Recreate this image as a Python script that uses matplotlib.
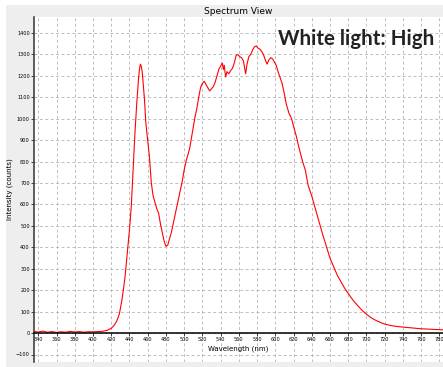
import numpy as np
import matplotlib
matplotlib.use('Agg')
import matplotlib.pyplot as plt
from matplotlib.patches import Rectangle

# spectrum (wavelength in nm, intensity in counts)
wavelength = [335, 340, 345, 350, 355, 360, 365, 370, 375, 380, 385, 390, 395,
              400, 405, 410, 415, 420, 423, 426, 429, 432, 435, 438, 440, 442,
              444, 446, 448, 450, 451, 452, 453, 454, 455, 456.5, 458, 460, 462,
              464, 466, 468, 470, 472, 474, 476, 478, 480, 482, 484, 486, 488,
              490, 492, 494, 496, 498, 500, 502, 504, 506, 508, 510, 512, 514,
              516, 518, 520, 522, 524, 526, 528, 530, 532, 534, 536, 538, 540,
              542, 543, 544, 545.5, 547, 549, 551, 553, 555, 557, 559, 561, 563,
              565, 567.5, 569, 571, 573, 575, 577, 579, 581, 583, 585, 587, 589,
              591, 593, 595, 597, 599, 601, 603, 605, 607.5, 610, 612, 615, 618,
              620, 623, 626, 630, 633, 636, 640, 644, 648, 652, 656, 660, 664,
              668, 672, 676, 680, 685, 690, 695, 700, 705, 710, 715, 720, 725,
              730, 735, 740, 745, 750, 755, 760, 765, 770, 775, 780, 785]
intensity = [8, 5, 9, 4, 7, 3, 6, 4, 8, 5, 7, 4, 6,
             6, 7, 8, 12, 22, 35, 55, 90, 160, 255, 390, 480, 590,
             760, 930, 1070, 1190, 1230, 1255, 1245, 1220, 1170, 1090, 980, 900, 820,
             700, 640, 610, 580, 560, 510, 470, 430, 405, 410, 440, 470, 510,
             550, 590, 630, 670, 710, 760, 800, 830, 860, 910, 960, 1010, 1050,
             1100, 1145, 1165, 1175, 1160, 1145, 1130, 1140, 1150, 1170, 1200, 1230, 1245,
             1260, 1230, 1250, 1195, 1220, 1210, 1225, 1235, 1260, 1295, 1300, 1290, 1285,
             1270, 1210, 1255, 1290, 1300, 1320, 1335, 1340, 1330, 1325, 1315, 1300, 1275,
             1255, 1275, 1285, 1280, 1265, 1250, 1220, 1195, 1165, 1115, 1070, 1026, 1000,
             965, 920, 865, 800, 760, 690, 640, 580, 520, 460, 405, 350, 310,
             270, 240, 210, 185, 155, 130, 107, 88, 72, 60, 50, 42, 37,
             33, 30, 28, 26, 24, 22, 20, 19, 18, 17, 16, 15]

x_ticks = list(range(340, 781, 20))
y_ticks = list(range(-100, 1401, 100))

fig = plt.figure(figsize=(4.43, 3.67), dpi=100)
fig.patch.set_facecolor('white')
# grey panel behind the plot
fig.patches.append(Rectangle((6 / 443, 0), 1, 362 / 367, transform=fig.transFigure,
                             facecolor='#eeeeee', edgecolor='none', zorder=0))

ax = fig.add_axes([34 / 443, 5 / 367, 409 / 443, 345 / 367])
ax.set_zorder(1)
ax.set_facecolor('white')
ax.plot(wavelength, intensity, color='#ff0000', lw=0.8, zorder=3)

ax.set_xlim(335.3, 784)
ax.set_ylim(-135, 1475)
ax.set_xticks(x_ticks)
ax.set_yticks(y_ticks)
ax.tick_params(labelsize=3.6, length=2, width=0.5, pad=1)
ax.grid(True, color='#b4b4b4', ls=(0, (3.5, 3)), lw=0.6)

ax.spines['top'].set_visible(False)
ax.spines['right'].set_visible(False)
ax.spines['bottom'].set_position(('data', 0))
ax.spines['bottom'].set_linewidth(1.1)
ax.spines['left'].set_linewidth(1.1)
ax.spines['left'].set_color('#333333')
ax.spines['bottom'].set_zorder(4)

ax.set_xlabel('Wavelength (nm)', fontsize=5, labelpad=2)
ax.set_ylabel('Intensity (counts)', fontsize=5, labelpad=2)

fig.text(238 / 443, 1 - 12 / 367, 'Spectrum View', ha='center', va='center',
         fontsize=6.5, zorder=2)
fig.text(434 / 443, 1 - 39 / 367, 'White light: High', ha='right', va='center',
         fontsize=14.8, fontweight='bold', family='Lato', color='#222222', zorder=2)

fig.savefig('out.png', dpi=100, facecolor=fig.get_facecolor())
